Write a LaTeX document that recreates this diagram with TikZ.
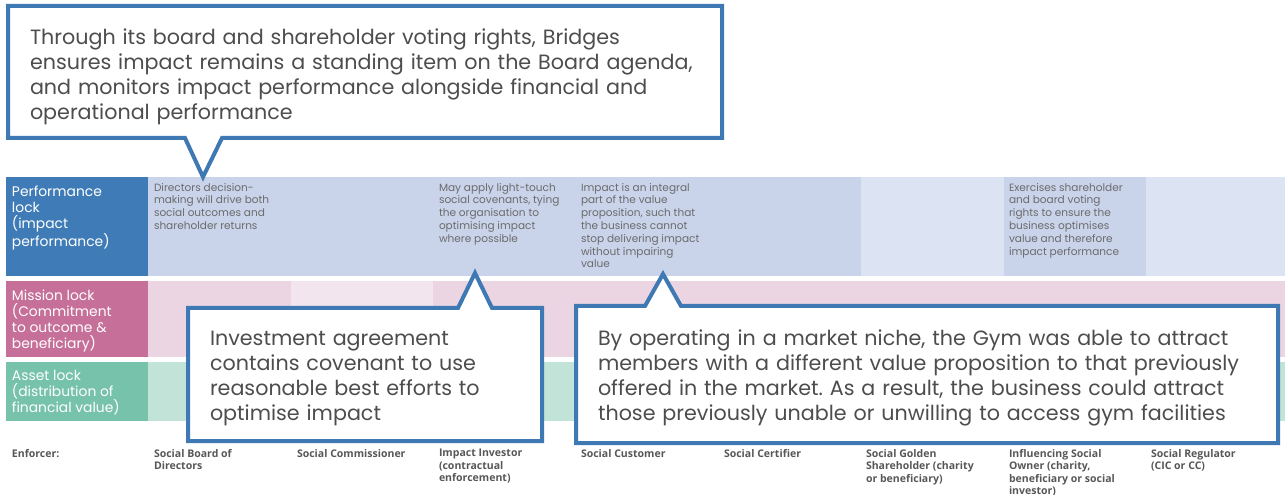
\documentclass[tikz,border=0pt]{standalone}
\usepackage{fontspec}
\setmainfont{Poppins}
\newfontfamily\enffont{Open Sans}

\definecolor{perfblue}{HTML}{3F7CB7}
\definecolor{perfdark}{HTML}{C9D3EA}
\definecolor{perflight}{HTML}{DCE3F2}
\definecolor{missionpink}{HTML}{C66F99}
\definecolor{missiondark}{HTML}{EBD5E3}
\definecolor{missionlight}{HTML}{F3E5EE}
\definecolor{assetgreen}{HTML}{77C2AB}
\definecolor{assetlight}{HTML}{C2E3D8}
\definecolor{calloutblue}{HTML}{3F79B3}
\definecolor{callouttxt}{HTML}{4D4D4D}
\definecolor{celltxt}{HTML}{6B6B6B}
\definecolor{enftxt}{HTML}{575757}

\frenchspacing
\begin{document}
\begin{tikzpicture}[x=0.75pt, y=-0.75pt,
    every node/.style={inner sep=0pt, outer sep=0pt},
    lockbox/.style={anchor=north west, minimum width=106.5pt},
    locktext/.style={anchor=north west, align=left, text=white,
                     font=\fontsize{10.4}{12}\selectfont},
    celltext/.style={anchor=north west, align=left, text=celltxt,
                     font=\fontsize{7.9}{9.6}\selectfont},
    enforcer/.style={anchor=north west, align=left, text=enftxt,
                     font=\enffont\bfseries\fontsize{7.9}{9.4}\selectfont},
    calloutline/.style={draw=calloutblue, line width=3pt, fill=white, line join=miter},
    callouttext/.style={anchor=west, align=left, text=callouttxt,
                        font=\fontsize{15.5}{18.75}\selectfont}]
  \useasboundingbox (0,0) rectangle (1285,495);

  % lock rows
  \node[lockbox, fill=perfblue, minimum height=74.25pt] (perf) at (6,177) {};
  \node[lockbox, fill=missionpink, minimum height=57pt] (mission) at (6,281) {};
  \node[lockbox, fill=assetgreen, minimum height=44.25pt] (asset) at (6,362) {};
  \foreach \c [count=\i from 0] in {perfdark,perfdark,perfdark,perfdark,perfdark,perflight,perfdark,perflight}
    \fill[\c] ({148+142.6*\i},177) rectangle ({148+142.6*(\i+1)},276);
  \foreach \c [count=\i from 0] in {missiondark,missionlight,missiondark,missiondark,missiondark,missiondark,missiondark,missiondark}
    \fill[\c] ({148+142.6*\i},281) rectangle ({148+142.6*(\i+1)},357);
  \fill[assetlight] (148,362) rectangle (1285,421);

  \node[locktext] (perf_label) at ([xshift=4.5pt, yshift=-6.5pt]perf.north west)
    {Performance\\lock\\(impact\\performance)};
  \node[locktext] (mission_label) at ([xshift=4.5pt, yshift=-6.5pt]mission.north west)
    {Mission lock\\(Commitment\\to outcome \&\\beneficiary)};
  \node[locktext] (asset_label) at ([xshift=4.5pt, yshift=-6.5pt]asset.north west)
    {Asset lock\\(distribution of\\financial value)};

  % performance cells
  \node[celltext] (directors) at (154,183)
    {Directors decision-\\making will drive both\\social outcomes and\\shareholder returns};
  \node[celltext] (covenants) at (439,183)
    {May apply light-touch\\social covenants, tying\\the organisation to\\optimising impact\\where possible};
  \node[celltext] (integral) at (581,183)
    {Impact is an integral\\part of the value\\proposition, such that\\the business cannot\\stop delivering impact\\without impairing\\value};
  \node[celltext] (voting) at (1009,183)
    {Exercises shareholder\\and board voting\\rights to ensure the\\business optimises\\value and therefore\\impact performance};

  % enforcers
  \node[enforcer] (enforcer) at (12,449) {Enforcer:};
  \node[enforcer] (board) at (154,449) {Social Board of\\Directors};
  \node[enforcer] (commissioner) at (297,449) {Social Commissioner};
  \node[enforcer] (investor) at (439,449) {Impact Investor\\(contractual\\enforcement)};
  \node[enforcer] (customer) at (581,449) {Social Customer};
  \node[enforcer] (certifier) at (724,449) {Social Certifier};
  \node[enforcer] (golden) at (866,449) {Social Golden\\Shareholder (charity\\or beneficiary)};
  \node[enforcer] (owner) at (1009,449) {Influencing Social\\Owner (charity,\\beneficiary or social\\investor)};
  \node[enforcer] (regulator) at (1151,449) {Social Regulator\\(CIC or CC)};

  % callouts
  \coordinate (bridges_nw) at (8,6);
  \coordinate (bridges_se) at (722,138);
  \coordinate (bridges_tip) at (203,177);
  \draw[calloutline] (bridges_nw) -- (bridges_nw -| bridges_se) -- (bridges_se)
    -- (222,138) -- (bridges_tip) -- (185,138) -- (bridges_nw |- bridges_se) -- cycle;
  \node[callouttext, text width=510pt] (bridges) at (30,77)
    {Through its board and shareholder voting rights, Bridges\\ensures impact remains a standing item on the Board agenda,\\and monitors impact performance alongside financial and\\operational performance};

  \coordinate (agreement_nw) at (188,308);
  \coordinate (agreement_se) at (542,441);
  \coordinate (agreement_tip) at (475,273);
  \draw[calloutline] (agreement_nw) -- (458,308) -- (agreement_tip) -- (492,308)
    -- (agreement_nw -| agreement_se) -- (agreement_se) -- (agreement_nw |- agreement_se) -- cycle;
  \node[callouttext, text width=250pt] (agreement) at (210,378)
    {Investment agreement\\contains covenant to use\\reasonable best efforts to\\optimise impact};

  \coordinate (gym_nw) at (576,306);
  \coordinate (gym_se) at (1278,443);
  \coordinate (gym_tip) at (663,274);
  \draw[calloutline] (gym_nw) -- (645,306) -- (gym_tip) -- (681,306)
    -- (gym_nw -| gym_se) -- (gym_se) -- (gym_nw |- gym_se) -- cycle;
  \node[callouttext, text width=510pt] (gym) at (598,378)
    {By operating in a market niche, the Gym was able to attract\\members with a different value proposition to that previously\\offered in the market. As a result, the business could attract\\those previously unable or unwilling to access gym facilities};
\end{tikzpicture}
\end{document}
